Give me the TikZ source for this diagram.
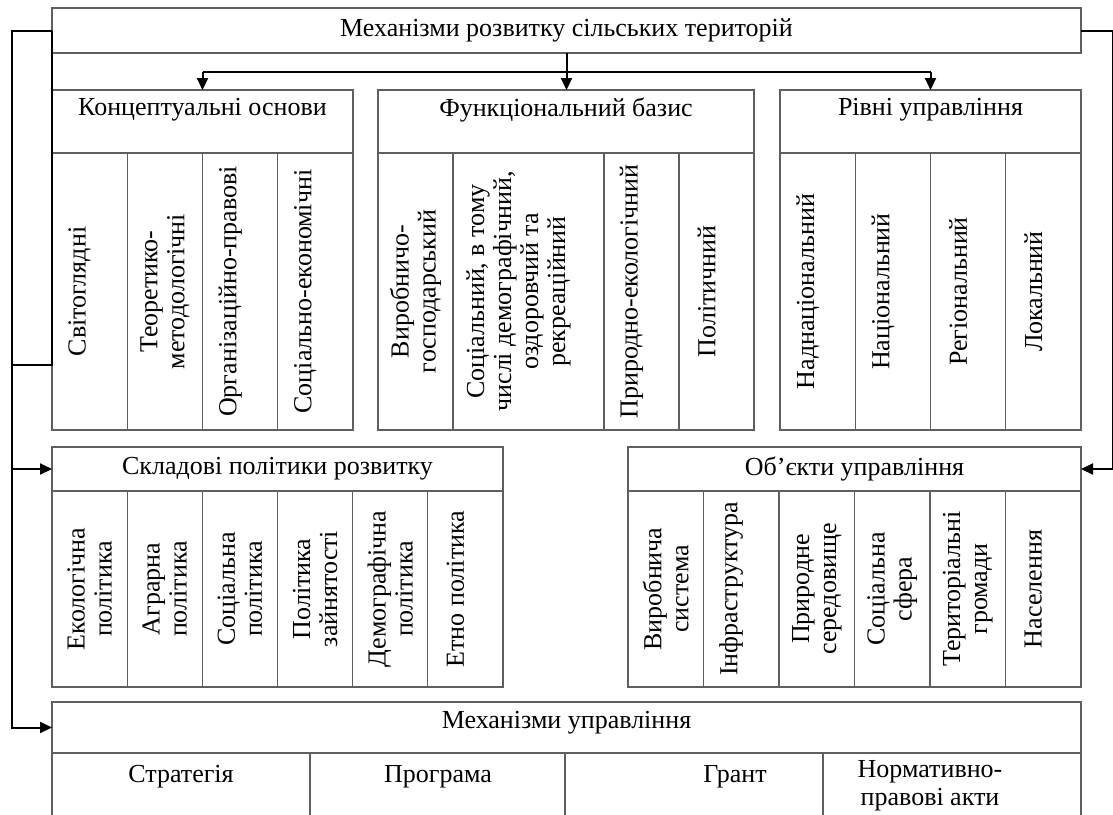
\documentclass[tikz,border=0pt]{standalone}
\usepackage{fontspec}
\setmainfont{Liberation Serif}
\usetikzlibrary{arrows.meta}
\definecolor{boxgray}{RGB}{95,95,95}
\tikzset{
  cell/.style={draw=boxgray, line width=1.2pt, inner sep=0pt, outer sep=0pt, anchor=north west},
  txt/.style={inner sep=0pt, align=center, font=\fontsize{26}{27}\selectfont},
  vtxt/.style={txt, rotate=90},
  conn/.style={draw=black, line width=2pt},
  arr/.style={conn, -{Triangle[length=12pt,width=11pt]}},
}
\newcommand\boxcell[5]{\node[cell, minimum width=#4-#2, minimum height=#5-#3] (#1) at (#2,#3) {};}
\newcommand\vcell[7]{\boxcell{#1}{#2}{#3}{#4}{#5}\node[vtxt] at ([xshift=#7]#1.center) {#6};}
\begin{document}
\begin{tikzpicture}[x=1pt,y=-1pt]
\clip (0,0) rectangle (1113,814);
\fill[white] (0,0) rectangle (1113,814);

% top
\boxcell{top}{52}{8}{1081}{53}
\node[txt] at (566.5,30) {Механізми розвитку сільських територій};

% Концептуальні основи
\boxcell{kH}{52}{90}{353}{153}
\node[txt] at (202.5,110) {Концептуальні основи};
\vcell{k1}{52}{153}{127.25}{430}{Світоглядні}{-10pt}
\vcell{k2}{127.25}{153}{202.5}{430}{Теоретико-\\методологічні}{0pt}
\vcell{k3}{202.5}{153}{277.75}{430}{Організаційно-правові}{-10pt}
\vcell{k4}{277.75}{153}{353}{430}{Соціально-економічні}{-10pt}

% Функціональний базис
\boxcell{fH}{378}{90}{754}{153}
\node[txt] at (566,110) {Функціональний базис};
\vcell{f1}{378}{153}{453}{430}{Виробничо-\\господарський}{0pt}
\vcell{f2}{453}{153}{604}{430}{Соціальний, в тому\\числі демографічний,\\оздоровчий та\\рекреаційний}{-10pt}
\vcell{f3}{604}{153}{679}{430}{Природно-екологічний}{-10pt}
\vcell{f4}{679}{153}{754}{430}{Політичний}{-10pt}

% Рівні управління
\boxcell{rH}{780}{90}{1081}{153}
\node[txt] at (930.5,110) {Рівні управління};
\vcell{r1}{780}{153}{855.25}{430}{Наднаціональний}{-10pt}
\vcell{r2}{855.25}{153}{930.5}{430}{Національний}{-10pt}
\vcell{r3}{930.5}{153}{1005.75}{430}{Регіональний}{-10pt}
\vcell{r4}{1005.75}{153}{1081}{430}{Локальний}{-10pt}

% Складові політики розвитку
\boxcell{sH}{52}{447}{503}{491}
\node[txt] at (277.5,469) {Складові політики розвитку};
\vcell{s1}{52}{491}{127.2}{687}{Екологічна\\політика}{0pt}
\vcell{s2}{127.2}{491}{202.3}{687}{Аграрна\\політика}{0pt}
\vcell{s3}{202.3}{491}{277.5}{687}{Соціальна\\політика}{0pt}
\vcell{s4}{277.5}{491}{352.7}{687}{Політика\\зайнятості}{0pt}
\vcell{s5}{352.7}{491}{427.8}{687}{Демографічна\\політика}{0pt}
\vcell{s6}{427.8}{491}{503}{687}{Етно політика}{-10pt}

% Об'єкти управління
\boxcell{oH}{628}{447}{1081}{491}
\node[txt] at (854.5,469) {Об’єкти управління};
\vcell{o1}{628}{491}{703.5}{687}{Виробнича\\система}{0pt}
\vcell{o2}{703.5}{491}{779}{687}{Інфраструктура}{-10pt}
\vcell{o3}{779}{491}{854.5}{687}{Природне\\середовище}{0pt}
\vcell{o4}{854.5}{491}{930}{687}{Соціальна\\сфера}{0pt}
\vcell{o5}{930}{491}{1005.5}{687}{Територіальні\\громади}{0pt}
\vcell{o6}{1005.5}{491}{1081}{687}{Населення}{-10pt}

% Механізми управління
\boxcell{mH}{52}{702}{1081}{753}
\node[txt] at (566.5,723) {Механізми управління};
\boxcell{m1}{52}{753}{310}{822}
\boxcell{m2}{310}{753}{565}{822}
\boxcell{m3}{565}{753}{823}{822}
\boxcell{m4}{823}{753}{1081}{822}
\node[txt] at (181,777) {Стратегія};
\node[txt] at (438,777) {Програма};
\node[txt] at (735,777) {Грант};
\node[txt, font=\fontsize{26}{28}\selectfont] at (930,786) {Нормативно-\\правові акти};

% connectors
\coordinate (j) at (top.south |- 0,72);
\draw[conn] (top.south) -- (j);
\draw[conn] (kH.north |- j) -- (rH.north |- j);
\draw[arr] (kH.north |- j) -- (kH.north);
\draw[arr] (j) -- (j |- fH.north);
\draw[arr] (rH.north |- j) -- (rH.north);

\coordinate (lt) at (12,30.5);
\draw[arr] (top.west) -- (lt) -- (lt |- mH.west) -- (mH.west);
\draw[arr] (lt |- sH.west) -- (sH.west);
\draw[conn] (top.west) -- (top.west |- 0,365) -- (lt |- 0,365);

\coordinate (rt) at (1113,30.5);
\draw[arr] (top.east) -- (rt) -- (rt |- oH.east) -- (oH.east);
\end{tikzpicture}
\end{document}
